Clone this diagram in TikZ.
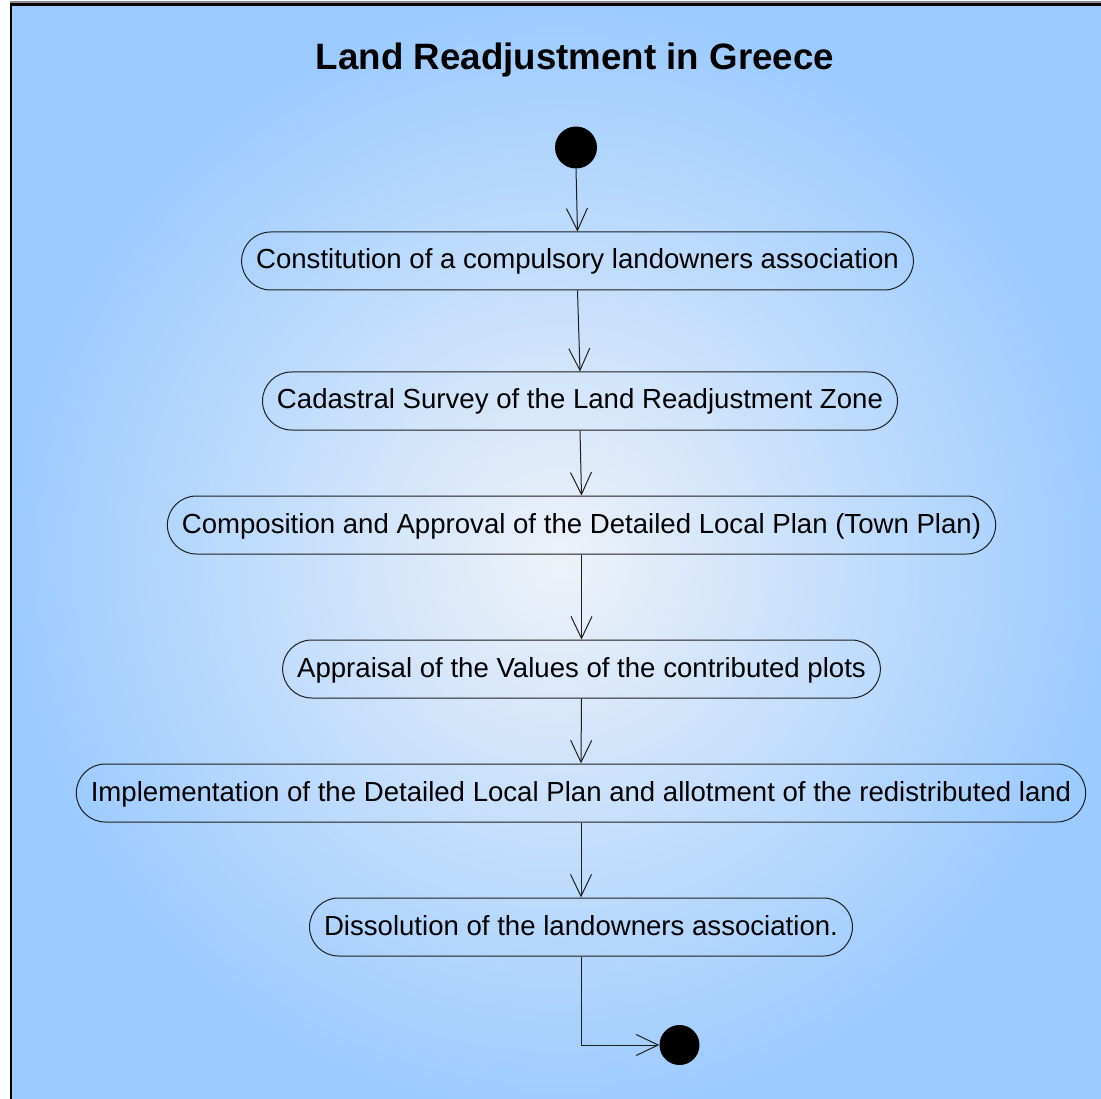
\documentclass[tikz,border=0pt]{standalone}
\usepackage{fontspec}
\setmainfont{Liberation Sans}
\usetikzlibrary{arrows.meta,positioning}
\definecolor{bgin}{RGB}{238,242,248}
\definecolor{bgout}{RGB}{156,203,255}
\definecolor{edge}{RGB}{30,30,30}
\tikzset{
  actbox/.style={draw=edge, line width=1pt, rounded corners=29pt, minimum height=58pt,
    inner xsep=14.5pt, inner ysep=0pt, text height=22pt, text depth=6pt,
    font=\fontsize{27.6}{33}\selectfont},
  dot/.style={circle, fill=black, draw=none, minimum size=#1, inner sep=0pt},
  flow/.style={draw=edge, line width=1pt, -{Straight Barb[length=22pt,width=21pt,line width=1pt]}},
}
\begin{document}
\begin{tikzpicture}[x=1pt,y=-1pt]
\useasboundingbox (0,0) rectangle (1101,1099);
\fill[white] (0,0) rectangle (1101,1099);
\shade[inner color=bgin, outer color=bgout] (11,5) rectangle (1110,1115);
\draw[black!45, line width=1.5pt] (10,2) -- (1110,2);
\draw[black, line width=3pt] (10,4.5) -- (1110,4.5);
\draw[black, line width=2pt] (11,4) -- (11,1110);

\node[font=\bfseries\fontsize{36.7}{44}\selectfont, anchor=base] (title) at (575,70) {Land Readjustment in Greece};

\node[dot=42pt] (start) at (576,147.5) {};
\node[actbox] (b1) at (577.5,261) {Constitution of a compulsory landowners association};
\node[actbox] (b2) at (580,401) {Cadastral Survey of the Land Readjustment Zone};
\node[actbox] (b3) at (581.5,525) {Composition and Approval of the Detailed Local Plan (Town Plan)};
\node[actbox] (b4) at (581.5,669) {Appraisal of the Values of the contributed plots};
\node[actbox] (b5) at (581,793) {Implementation of the Detailed Local Plan and allotment of the redistributed land};
\node[actbox] (b6) at (581,927) {Dissolution of the landowners association.};
\node[dot=40pt] (end) at (679.5,1045) {};

\draw[flow] (start.south) -- (b1.north);
\draw[flow] (b1.south) -- (b2.north);
\draw[flow] (b2.south) -- (b3.north);
\draw[flow] (b3.south) -- (b4.north);
\draw[flow] (b4.south) -- (b5.north);
\draw[flow] (b5.south) -- (b6.north);
\draw[flow] (b6.south) |- (end.west);
\end{tikzpicture}
\end{document}
